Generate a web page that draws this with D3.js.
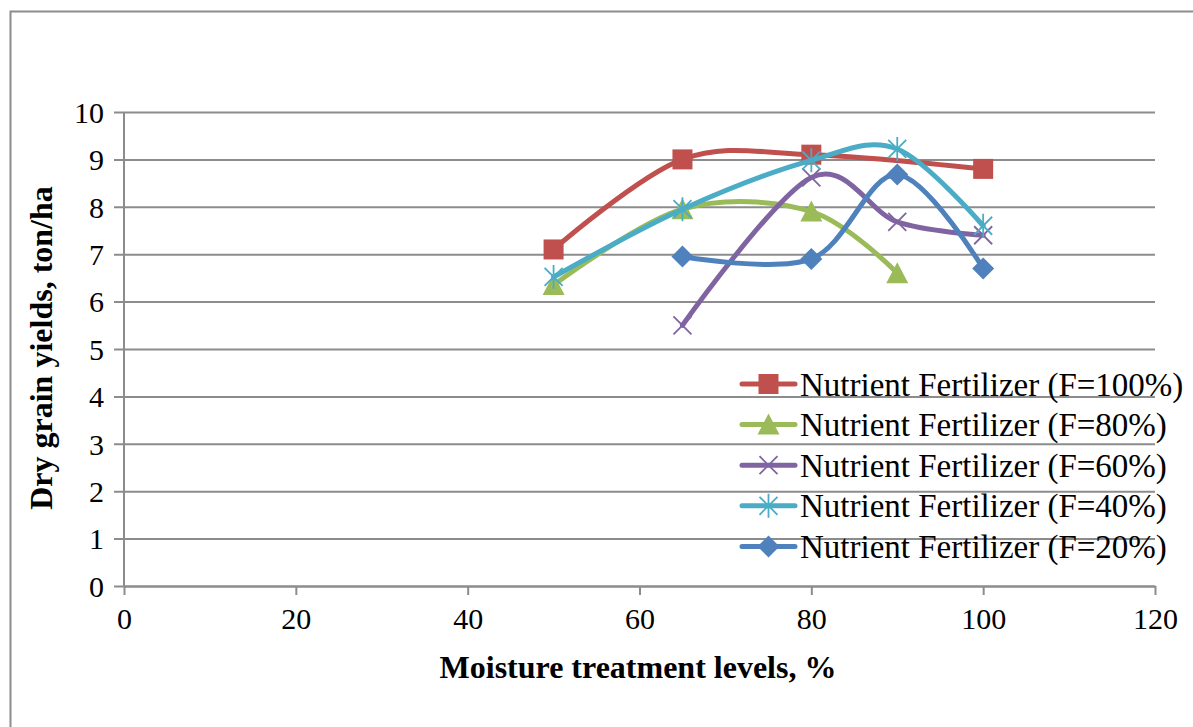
<!DOCTYPE html>
<html>
<head>
<meta charset="utf-8">
<script src="https://cdn.jsdelivr.net/npm/d3@7"></script>
<style>
  html, body { margin: 0; padding: 0; background: #fff; }
  svg { display: block; }
  text { font-family: "Liberation Serif", "Times New Roman", serif; fill: #000; }
</style>
</head>
<body>
<svg id="chart" width="1193" height="727"></svg>
<script>
// Moisture levels (%) for each fertilizer series and the measured dry grain yields (ton/ha)
const xTicks = [0, 20, 40, 60, 80, 100, 120];
const yTicks = [0, 1, 2, 3, 4, 5, 6, 7, 8, 9, 10];

const f100X = [50, 65, 80, 100];
const f100Y = [7.1, 9.0, 9.1, 8.8];

const f80X = [50, 65, 80, 90];
const f80Y = [6.35, 7.95, 7.9, 6.6];

const f60X = [65, 80, 90, 100];
const f60Y = [5.5, 8.62, 7.68, 7.4];

const f40X = [50, 65, 80, 90, 100];
const f40Y = [6.52, 7.95, 8.98, 9.22, 7.6];

const f20X = [65, 80, 90, 100];
const f20Y = [6.95, 6.9, 8.68, 6.7];

const seriesNames = [
  "Nutrient Fertilizer (F=100%)",
  "Nutrient Fertilizer (F=80%)",
  "Nutrient Fertilizer (F=60%)",
  "Nutrient Fertilizer (F=40%)",
  "Nutrient Fertilizer (F=20%)"
];

const xTitle = "Moisture treatment levels, %";
const yTitle = "Dry grain yields, ton/ha";

const series = [
  { name: seriesNames[0], xs: f100X, ys: f100Y, color: "#C0504D", marker: "square" },
  { name: seriesNames[1], xs: f80X,  ys: f80Y,  color: "#9BBB59", marker: "triangle" },
  { name: seriesNames[2], xs: f60X,  ys: f60Y,  color: "#8064A2", marker: "x" },
  { name: seriesNames[3], xs: f40X,  ys: f40Y,  color: "#4BACC6", marker: "star" },
  { name: seriesNames[4], xs: f20X,  ys: f20Y,  color: "#4F81BD", marker: "diamond" }
];

const svg = d3.select("#chart");
const plot = { left: 124, right: 1155, top: 112, bottom: 586 };
const gridColor = "#8c8c8c";
const serif = '"Liberation Serif", "Times New Roman", serif';

// Outer chart frame
svg.append("rect")
  .attr("x", 10.5).attr("y", 11.5)
  .attr("width", 1200).attr("height", 740)
  .attr("fill", "#fff").attr("stroke", gridColor).attr("stroke-width", 2);

const x = d3.scaleLinear().domain([0, 120]).range([plot.left, plot.right]);
const y = d3.scaleLinear().domain([0, 10]).range([plot.bottom, plot.top]);

// Horizontal gridlines + y axis
const yAxis = d3.axisLeft(y).tickValues(yTicks).tickSize(plot.right - plot.left + 10)
  .tickSizeOuter(0).tickPadding(10).tickFormat(d3.format("d"));
const gy = svg.append("g").attr("transform", `translate(${plot.right},0)`).call(yAxis)
  .attr("font-family", serif);
gy.select(".domain").remove();
gy.selectAll(".tick line").attr("stroke", gridColor).attr("stroke-width", 2);
gy.selectAll(".tick text").attr("font-size", 30).attr("dy", "0.34em");

// Vertical axis line
svg.append("line")
  .attr("x1", plot.left).attr("x2", plot.left)
  .attr("y1", plot.top).attr("y2", plot.bottom)
  .attr("stroke", gridColor).attr("stroke-width", 2);

// X axis
const xAxis = d3.axisBottom(x).tickValues(xTicks).tickSize(9).tickSizeOuter(0)
  .tickPadding(8).tickFormat(d3.format("d"));
const gx = svg.append("g").attr("transform", `translate(0,${plot.bottom})`).call(xAxis)
  .attr("font-family", serif);
gx.select(".domain").attr("stroke", gridColor).attr("stroke-width", 2);
gx.selectAll(".tick line").attr("stroke", gridColor).attr("stroke-width", 2);
gx.selectAll(".tick text").attr("font-size", 30).attr("dy", "0.85em");

// Axis titles
svg.append("text")
  .attr("x", 638).attr("y", 678)
  .attr("text-anchor", "middle").attr("font-weight", "bold").attr("font-size", 32)
  .text(xTitle);

svg.append("text")
  .attr("transform", `translate(52,${348}) rotate(-90)`)
  .attr("text-anchor", "middle").attr("font-weight", "bold").attr("font-size", 32)
  .text(yTitle);

// Marker drawing
function drawMarker(g, type, cx, cy, color) {
  if (type === "square") {
    g.append("rect").attr("x", cx - 10).attr("y", cy - 10).attr("width", 20).attr("height", 20)
      .attr("fill", color);
  } else if (type === "triangle") {
    g.append("path").attr("d", `M${cx},${cy - 11} L${cx + 11},${cy + 10} L${cx - 11},${cy + 10} Z`)
      .attr("fill", color);
  } else if (type === "diamond") {
    g.append("path").attr("d", `M${cx},${cy - 11} L${cx + 11},${cy} L${cx},${cy + 11} L${cx - 11},${cy} Z`)
      .attr("fill", color);
  } else if (type === "x") {
    g.append("path").attr("d", `M${cx - 9},${cy - 9} L${cx + 9},${cy + 9} M${cx - 9},${cy + 9} L${cx + 9},${cy - 9}`)
      .attr("stroke", color).attr("stroke-width", 1.8).attr("fill", "none");
  } else if (type === "star") {
    g.append("path").attr("d",
      `M${cx - 9},${cy - 9} L${cx + 9},${cy + 9} M${cx - 9},${cy + 9} L${cx + 9},${cy - 9} M${cx},${cy - 12} L${cx},${cy + 12}`)
      .attr("stroke", color).attr("stroke-width", 1.8).attr("fill", "none");
  }
}

// Smoothed series lines with markers
const line = d3.line()
  .x(d => x(d[0])).y(d => y(d[1]))
  .curve(d3.curveCatmullRom.alpha(0));

const gSeries = svg.append("g");
series.forEach(s => {
  const pts = s.xs.map((v, i) => [v, s.ys[i]]);
  const g = gSeries.append("g");
  g.append("path").datum(pts).attr("d", line)
    .attr("fill", "none").attr("stroke", s.color).attr("stroke-width", 5)
    .attr("stroke-linejoin", "round").attr("stroke-linecap", "round");
  pts.forEach(p => drawMarker(g, s.marker, x(p[0]), y(p[1]), s.color));
});

// Legend
const legend = svg.append("g");
const legendTop = 384, legendStep = 40.6;
series.forEach((s, i) => {
  const ly = legendTop + i * legendStep;
  const g = legend.append("g");
  g.append("line").attr("x1", 742).attr("x2", 795).attr("y1", ly).attr("y2", ly)
    .attr("stroke", s.color).attr("stroke-width", 5).attr("stroke-linecap", "round");
  drawMarker(g, s.marker, 768.5, ly, s.color);
  g.append("text").attr("x", 800).attr("y", ly).attr("dy", "0.35em")
    .attr("font-size", 33).text(s.name);
});
</script>
</body>
</html>
